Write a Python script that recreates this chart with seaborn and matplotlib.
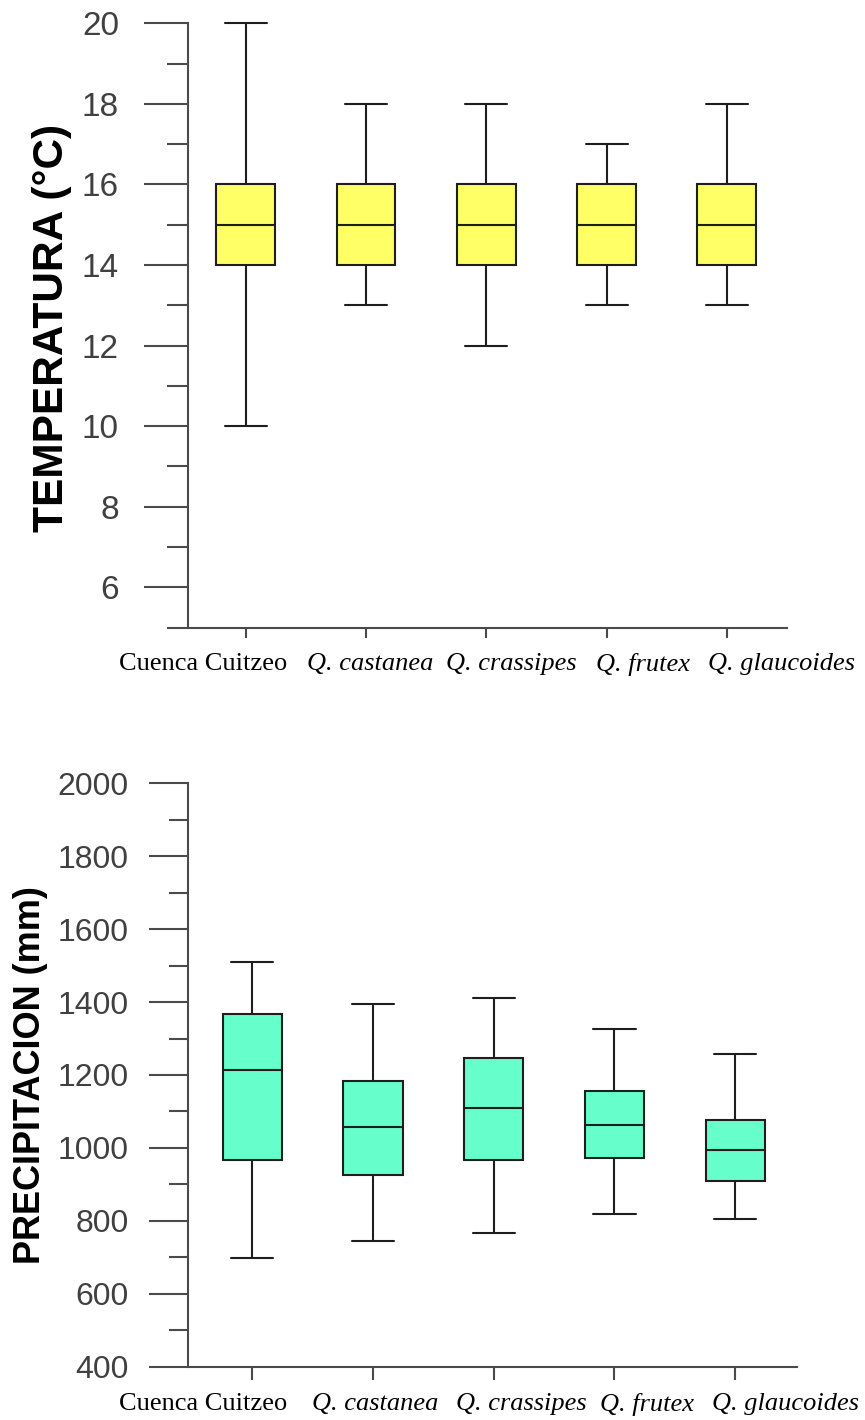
import numpy as np
import pandas as pd
import matplotlib
matplotlib.use("Agg")
import matplotlib.pyplot as plt
import matplotlib.transforms as mtransforms
from matplotlib.ticker import MultipleLocator
import seaborn as sns

sitios = ["Cuenca Cuitzeo", "Q. castanea", "Q. crassipes", "Q. frutex", "Q. glaucoides"]

# temperatura (°C): min, q1, mediana, q3, max
temp_min = [10, 13, 12, 13, 13]
temp_q1 = [14, 14, 14, 14, 14]
temp_med = [15, 15, 15, 15, 15]
temp_q3 = [16, 16, 16, 16, 16]
temp_max = [20, 18, 18, 17, 18]

# precipitacion (mm)
prec_min = [698, 746, 767, 819, 804]
prec_q1 = [968, 925, 968, 973, 910]
prec_med = [1214, 1057, 1110, 1062, 993]
prec_q3 = [1367, 1183, 1247, 1156, 1077]
prec_max = [1510, 1394, 1410, 1326, 1257]


def to_long(mins, q1s, meds, q3s, maxs):
    rows = []
    for s, a, b, c, d, e in zip(sitios, mins, q1s, meds, q3s, maxs):
        for v in (a, b, c, d, e):
            rows.append({"sitio": s, "valor": v})
    return pd.DataFrame(rows)


df_t = to_long(temp_min, temp_q1, temp_med, temp_q3, temp_max)
df_p = to_long(prec_min, prec_q1, prec_med, prec_q3, prec_max)

sns.set_style("white")
plt.rcParams["font.family"] = ["Liberation Sans", "DejaVu Sans"]

W, H = 865, 1420
fig = plt.figure(figsize=(W / 100, H / 100), dpi=100)


def px_axes(left, top, right, bottom):
    return fig.add_axes([left / W, 1 - bottom / H, (right - left) / W, (bottom - top) / H])


ax1 = px_axes(187.7, 23.3, 787, 627.5)
ax2 = px_axes(188.3, 783.3, 796.7, 1366.7)

line_col = "#1e1e1e"
spine_col = "#4a4a4a"


def draw(ax, df, color, xlim, ylim, major, minor, tick_fs, maj_len, min_len, ypad,
         xtick_len, xpad, offsets):
    sns.boxplot(data=df, x="sitio", y="valor", order=sitios, ax=ax, color=color,
                width=0.49, whis=(0, 100), linecolor=line_col, linewidth=1.5,
                fliersize=0, saturation=1)
    # caps a bit wider than seaborn's default
    for c in ax.containers:
        for cap in c.caps:
            xd = np.asarray(cap.get_xdata(), dtype=float)
            m = xd.mean()
            cap.set_xdata([m - 0.175, m + 0.175])
    for ln in ax.lines:
        ln.set_clip_on(False)
    for p in ax.patches:
        p.set_clip_on(False)

    ax.set_xlim(*xlim)
    ax.set_ylim(*ylim)
    ax.yaxis.set_major_locator(MultipleLocator(major))
    ax.yaxis.set_minor_locator(MultipleLocator(minor))
    ax.set_xlabel("")
    ax.set_ylabel("")
    for side in ("top", "right"):
        ax.spines[side].set_visible(False)
    for side in ("left", "bottom"):
        ax.spines[side].set_color(spine_col)
        ax.spines[side].set_linewidth(1.5)
    ax.tick_params(axis="y", which="major", direction="out", length=maj_len, width=1.5,
                   color=spine_col, pad=ypad, labelsize=tick_fs, labelcolor="#404040",
                   left=True)
    ax.tick_params(axis="y", which="minor", direction="out", length=min_len, width=1.5,
                   color=spine_col, left=True)
    ax.tick_params(axis="x", which="major", direction="out", length=xtick_len, width=1.5,
                   color=spine_col, pad=xpad, bottom=True)
    ax.set_xticks(range(len(sitios)))
    ax.set_xticklabels(sitios)
    for i, lab in enumerate(ax.get_xticklabels()):
        lab.set_fontfamily(["Liberation Serif", "DejaVu Serif"])
        lab.set_fontsize(19)
        lab.set_color("black")
        lab.set_fontstyle("normal" if i == 0 else "italic")
        lab.set_transform(lab.get_transform() +
                          mtransforms.ScaledTranslation(offsets[i] / 100, 0, fig.dpi_scale_trans))
    ax.grid(False)


draw(ax1, df_t, "#ffff66", (-0.482, 4.50), (5, 20), 2, 1, 24, 31.5, 15, 18,
     7.2, 11, [-43, 4.5, 25, 36, 55])
draw(ax2, df_p, "#66ffcc", (-0.53, 4.51), (400, 2000), 200, 100, 23, 28, 13.7, 15,
     9.4, 9.5, [-49, 2.5, 28, 33, 50])

fig.text(52 / W, 1 - 328 / H, "TEMPERATURA (°C)", rotation=90, ha="center", va="center",
         fontsize=30.5, fontweight="bold", color="black")
fig.text(31 / W, 1 - 1075 / H, "PRECIPITACION (mm)", rotation=90, ha="center", va="center",
         fontsize=26, fontweight="bold", color="black")

fig.savefig("out.png", dpi=100, facecolor="white")
